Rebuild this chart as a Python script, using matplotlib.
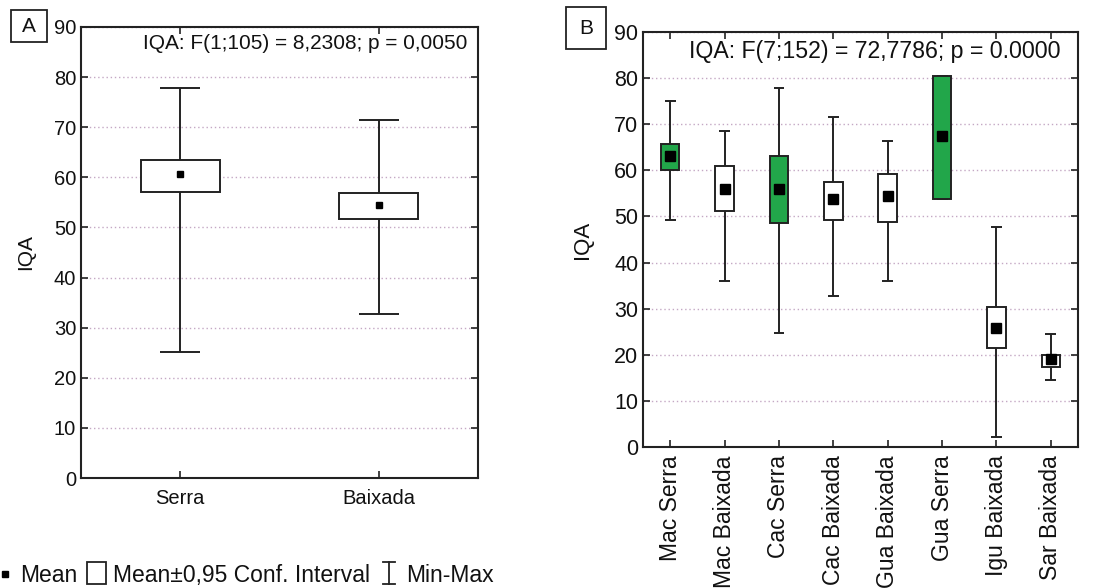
import matplotlib
matplotlib.use("Agg")
import matplotlib.pyplot as plt
from matplotlib.patches import Rectangle
from matplotlib.lines import Line2D

plt.rcParams['font.family'] = ['Liberation Sans', 'DejaVu Sans']

# ---- Data panel A ----
a_cats = ["Serra", "Baixada"]
a_mean = [60.6, 54.5]
a_ci_lo = [57.1, 51.6]
a_ci_hi = [63.5, 56.8]
a_min = [25.1, 32.7]
a_max = [77.8, 71.4]
a_title = "IQA: F(1;105) = 8,2308; p = 0,0050"

# ---- Data panel B ----
b_cats = ["Mac Serra", "Mac Baixada", "Cac Serra", "Cac Baixada",
          "Gua Baixada", "Gua Serra", "Igu Baixada", "Sar Baixada"]
b_mean = [63.1, 56.0, 56.0, 53.7, 54.4, 67.5, 25.9, 19.0]
b_ci_lo = [60.0, 51.1, 48.5, 49.2, 48.9, 53.7, 21.4, 17.3]
b_ci_hi = [65.7, 60.9, 63.1, 57.5, 59.3, 80.4, 30.4, 19.9]
b_min = [49.3, 35.9, 24.8, 32.7, 35.9, 53.7, 2.2, 14.5]
b_max = [75.0, 68.6, 77.9, 71.6, 66.4, 80.4, 47.8, 24.4]
b_green = [True, False, True, False, False, True, False, False]
b_title = "IQA: F(7;152) = 72,7786; p = 0.0000"

yticks = list(range(0, 100, 10))
GREEN = "#22a64a"
GRID = "#c4a8c4"
EDGE = "#222222"
TXT = "#111111"

fig = plt.figure(figsize=(11.12, 5.88), dpi=100)
W, H = 1112, 588

def axes_px(l, t, r, b):
    return fig.add_axes([l / W, 1 - b / H, (r - l) / W, (b - t) / H])

axA = axes_px(81, 27, 478, 478)
axB = axes_px(643, 32, 1078, 447)


def draw(ax, cats, mean, lo, hi, mn, mx, colors, bw, cw, ms, tfs, lfs, rot,
         title, titlefs, tx, ty, pad):
    n = len(cats)
    ax.set_xlim(-0.5, n - 0.5)
    ax.set_ylim(0, 90)
    ax.set_yticks(yticks)
    ax.set_xticks(range(n))
    ax.set_xticklabels(cats, rotation=rot, fontsize=lfs, color=TXT)
    ax.tick_params(axis='y', labelsize=tfs, labelcolor=TXT)
    ax.tick_params(direction='in', top=True, right=True, length=5, width=1.2, color=EDGE)
    ax.tick_params(axis='x', pad=pad)
    ax.grid(axis='y', linestyle=(0, (1, 2)), color=GRID, linewidth=1.0)
    ax.set_axisbelow(True)
    for s in ax.spines.values():
        s.set_linewidth(1.5)
        s.set_color(EDGE)
    for i in range(n):
        ax.vlines(i, mn[i], mx[i], color=EDGE, lw=1.4, zorder=2)
        ax.hlines([mn[i], mx[i]], i - cw / 2, i + cw / 2, color=EDGE, lw=1.4, zorder=2)
        ax.add_patch(Rectangle((i - bw / 2, lo[i]), bw, hi[i] - lo[i],
                               facecolor=colors[i], edgecolor=EDGE, lw=1.4, zorder=3))
    ax.plot(range(n), mean, linestyle='none', marker='s', ms=ms,
            color='black', zorder=4)
    ax.text(tx, ty, title, transform=ax.transAxes, ha='right', va='center',
            fontsize=titlefs, color=TXT)
    ax.set_ylabel("IQA", fontsize=tfs + 0.5, color=TXT)


draw(axA, a_cats, a_mean, a_ci_lo, a_ci_hi, a_min, a_max, ['white'] * 2,
     0.40, 0.20, 5, 14.5, 14.5, 0, a_title, 15, 0.972, 0.9645, 8)
draw(axB, b_cats, b_mean, b_ci_lo, b_ci_hi, b_min, b_max,
     [GREEN if g else 'white' for g in b_green],
     0.34, 0.20, 6.5, 15.5, 16.5, 90, b_title, 16.7, 0.959, 0.952, 6)
axA.yaxis.set_label_coords(-0.116, 0.5)
axB.yaxis.set_label_coords(-0.115, 0.5)

# panel letters
def letter(l, t, r, b, s):
    fig.patches.append(Rectangle((l / W, 1 - b / H), (r - l) / W, (b - t) / H,
                                 transform=fig.transFigure, facecolor='white',
                                 edgecolor=EDGE, lw=1.3))
    fig.text((l + r) / 2 / W, 1 - (t + b) / 2 / H, s, ha='center', va='center',
             fontsize=15, color=TXT)

letter(11, 10, 47, 42, "A")
letter(566, 7, 606, 49, "B")

# legend
LFS = 16.5
yb = 1 - 582 / H
fig.add_artist(Line2D([5 / W], [1 - 574 / H], marker='s', ms=4.5, color='black',
                      linestyle='none', transform=fig.transFigure))
fig.text(20 / W, yb, "Mean", fontsize=LFS, color=TXT, va='baseline')
fig.patches.append(Rectangle((87 / W, 1 - 584 / H), 19 / W, 22 / H,
                             transform=fig.transFigure, facecolor='white',
                             edgecolor=EDGE, lw=1.3))
fig.text(113 / W, yb, "Mean\u00b10,95 Conf. Interval", fontsize=LFS,
         color=TXT, va='baseline')
xi = 389
fig.add_artist(Line2D([xi / W, xi / W], [1 - 584 / H, 1 - 562 / H], color=EDGE,
                      lw=1.3, transform=fig.transFigure))
for yy in (562, 584):
    fig.add_artist(Line2D([(xi - 6) / W, (xi + 6) / W], [1 - yy / H] * 2,
                          color=EDGE, lw=1.3, transform=fig.transFigure))
fig.text(406 / W, yb, "Min-Max", fontsize=LFS, color=TXT, va='baseline')

fig.savefig("out.png", dpi=100)
